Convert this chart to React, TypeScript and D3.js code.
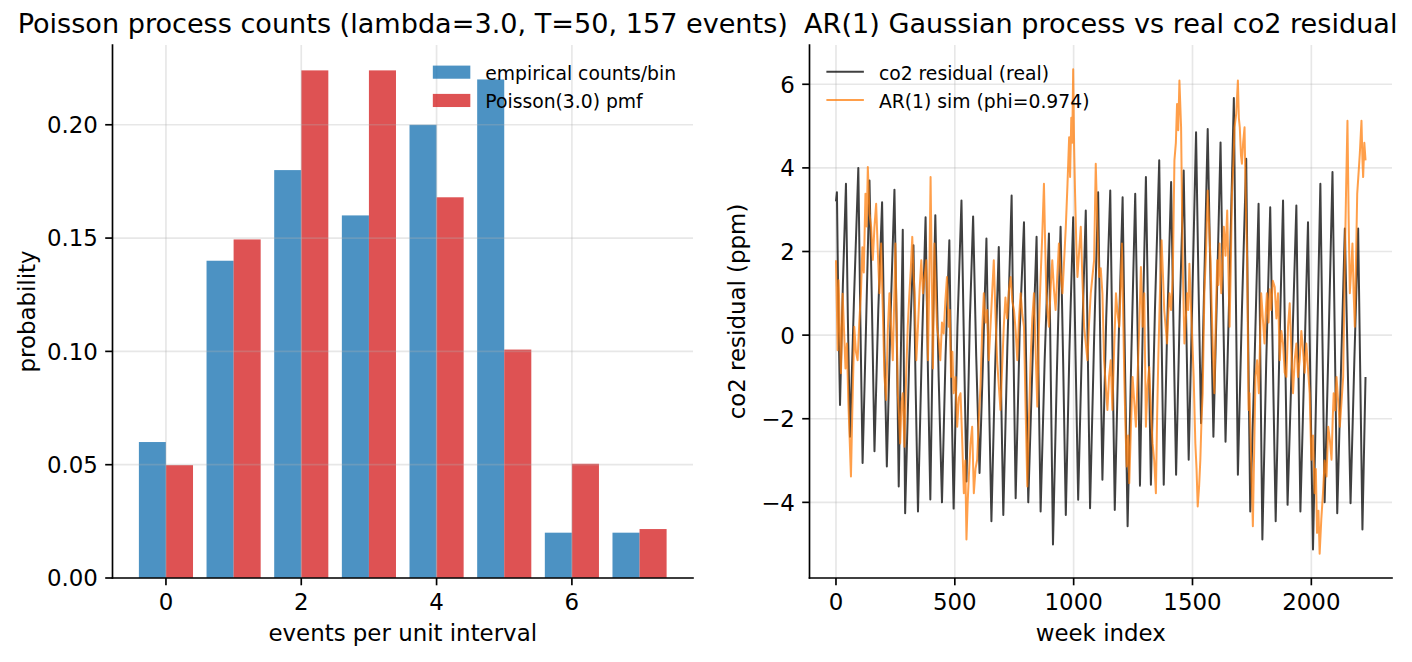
import React from 'react';
import * as d3 from 'd3';

const W = 1412;
const H = 662;
const FONT = "'DejaVu Sans', Verdana, sans-serif";

// ---- left panel: counts per unit interval ----
const eventCounts = [0, 1, 2, 3, 4, 5, 6, 7];
const empiricalProb = [0.06, 0.14, 0.18, 0.16, 0.2, 0.22, 0.02, 0.02];
const poissonPmf = [0.0498, 0.1494, 0.224, 0.224, 0.168, 0.1008, 0.0504, 0.0216];
const leftTicksX = [0, 2, 4, 6];
const leftTicksY = [0, 0.05, 0.1, 0.15, 0.2];

// ---- right panel: weekly co2 residual ----
const co2Weeks = [
  0, 4, 10, 17, 29, 42, 50, 59, 76, 94, 103, 112, 126, 141, 151, 162, 178, 194, 204, 214,
  230, 246, 255, 264, 272, 281, 286, 291, 308, 326, 335, 345, 361, 377, 387, 397, 407, 418, 432, 446,
  461, 477, 486, 495, 511, 528, 538, 549, 563, 577, 590, 604, 618, 633, 643, 654, 669, 685, 694, 704,
  721, 739, 747, 756, 773, 791, 800, 809, 826, 844, 852, 861, 878, 896, 904, 913, 929, 945, 956, 967,
  982, 998, 1008, 1019, 1035, 1051, 1060, 1069, 1086, 1103, 1112, 1121, 1137, 1154, 1163, 1173, 1189, 1206, 1216, 1227,
  1243, 1259, 1269, 1279, 1291, 1304, 1314, 1325, 1342, 1360, 1369, 1379, 1394, 1410, 1420, 1431, 1447, 1463, 1473, 1484,
  1500, 1515, 1525, 1536, 1550, 1564, 1576, 1588, 1603, 1618, 1628, 1639, 1656, 1674, 1682, 1691, 1708, 1726, 1734, 1743,
  1760, 1778, 1786, 1794, 1810, 1827, 1838, 1850, 1865, 1881, 1890, 1900, 1918, 1937, 1945, 1954, 1970, 1986, 1996, 2007,
  2022, 2038, 2047, 2056, 2072, 2089, 2099, 2109, 2125, 2141, 2153, 2165, 2181, 2197, 2206, 2215, 2228,
];
const co2Resid = [
  3.2, 3.42, 0.6, -1.67, 1.2, 3.62, 0.4, -2.43, 0.9, 4.0, 0.2, -3.06, 0.1, 3.7, 0.8, -2.78, 0.6, 3.18, -0.4, -3.14,
  0.5, 3.48, 0.3, -3.62, -0.8, 2.52, -1.0, -4.26, -0.6, 2.15, -1.2, -4.22, -0.4, 2.82, -0.9, -3.93, -0.2, 2.87, -1.0, -4.0,
  -0.5, 2.27, -1.4, -4.15, 0.2, 3.22, -0.1, -3.5, 0.3, 2.84, -0.5, -3.3, -0.7, 2.31, -1.2, -4.45, -0.9, 2.11, -1.1, -4.3,
  -0.3, 3.34, -0.4, -3.9, 0.1, 2.7, -0.6, -4.0, -0.8, 2.35, -0.9, -4.22, -0.6, 2.43, -1.1, -5.01, -1.0, 2.59, -0.7, -4.3,
  -0.4, 2.82, -0.5, -3.94, -0.2, 2.98, -0.6, -4.14, -0.1, 3.42, -0.2, -3.46, 0.4, 3.46, -0.3, -4.18, -0.2, 3.3, -0.7, -4.57,
  -0.4, 3.38, 0.1, -3.6, 0.3, 3.78, 0.2, -3.58, 0.6, 4.18, 0.4, -3.58, 0.3, 3.66, 0.2, -3.34, 0.7, 3.94, 0.5, -2.98,
  1.1, 4.85, 1.3, -2.11, 1.4, 4.93, 1.2, -2.43, 1.0, 4.61, 1.0, -2.55, 1.3, 5.67, 1.2, -3.34, 0.6, 4.22, 0.0, -4.22,
  -0.9, 3.14, -0.8, -4.89, -0.7, 3.06, -0.6, -4.45, -0.5, 3.22, -0.4, -4.06, -0.6, 3.1, -0.5, -4.22, -0.8, 2.7, -1.2, -5.13,
  -0.9, 3.62, -0.2, -4.0, -0.3, 3.9, -0.2, -4.26, -0.8, 2.55, -0.7, -4.02, -0.6, 2.55, -1.0, -4.65, -1.0,
];

// ---- right panel: simulated AR(1) path ----
const arWeeks = [
  0, 4, 7, 11, 16, 21, 28, 34, 40, 46, 52, 57, 63, 68, 73, 77, 84, 91, 98, 105,
  111, 117, 124, 129, 134, 141, 148, 155, 162, 169, 176, 183, 190, 197, 204, 211, 218, 225, 232, 239,
  245, 250, 255, 260, 265, 270, 276, 281, 288, 295, 302, 308, 315, 321, 326, 331, 338, 345, 352, 359,
  366, 373, 380, 387, 393, 398, 404, 408, 414, 419, 425, 432, 439, 446, 453, 460, 467, 474, 479, 484,
  490, 495, 503, 510, 517, 524, 531, 538, 544, 549, 554, 559, 566, 573, 580, 587, 594, 601, 608, 615,
  622, 629, 636, 643, 650, 657, 664, 671, 678, 685, 692, 699, 706, 713, 720, 728, 735, 742, 749, 756,
  763, 770, 777, 784, 791, 798, 805, 812, 819, 826, 833, 840, 847, 854, 861, 868, 875, 880, 885, 891,
  896, 903, 910, 917, 924, 931, 938, 945, 953, 960, 967, 974, 981, 985, 990, 994, 998, 1002, 1006, 1011,
  1016, 1023, 1030, 1037, 1044, 1051, 1058, 1065, 1072, 1079, 1086, 1093, 1100, 1107, 1114, 1121, 1128, 1135, 1142, 1149,
  1156, 1163, 1170, 1178, 1185, 1192, 1198, 1203, 1208, 1213, 1218, 1223, 1229, 1234, 1241, 1248, 1255, 1262, 1269, 1276,
  1283, 1290, 1297, 1304, 1311, 1318, 1325, 1332, 1339, 1346, 1351, 1356, 1363, 1370, 1376, 1381, 1387, 1393, 1398, 1403,
  1410, 1417, 1424, 1430, 1435, 1440, 1445, 1452, 1456, 1460, 1466, 1472, 1477, 1482, 1487, 1492, 1497, 1501, 1505, 1512,
  1517, 1522, 1528, 1533, 1538, 1543, 1550, 1557, 1564, 1570, 1576, 1580, 1585, 1592, 1598, 1604, 1609, 1614, 1621, 1627,
  1632, 1639, 1646, 1651, 1656, 1661, 1666, 1672, 1677, 1684, 1691, 1695, 1699, 1704, 1708, 1713, 1719, 1724, 1730, 1736,
  1740, 1747, 1754, 1760, 1765, 1772, 1779, 1784, 1789, 1796, 1803, 1808, 1813, 1820, 1825, 1831, 1838, 1846, 1853, 1860,
  1867, 1874, 1881, 1888, 1895, 1902, 1909, 1916, 1923, 1930, 1937, 1944, 1951, 1958, 1965, 1972, 1979, 1986, 1993, 2000,
  2007, 2014, 2019, 2024, 2030, 2035, 2042, 2049, 2056, 2064, 2071, 2078, 2085, 2090, 2094, 2100, 2106, 2113, 2120, 2127,
  2134, 2141, 2146, 2152, 2157, 2162, 2168, 2173, 2178, 2183, 2188, 2193, 2199, 2204, 2208, 2211, 2215, 2218, 2223, 2228,
];
const arValues = [
  1.79, 0.6, -0.36, 1.31, 0.2, -0.91, 0.99, 0.1, -0.8, -0.2, -1.6, -2.4, -3.38, -2.0, -0.8, 0.2, -0.4, -0.6, 0.3, 1.0,
  2.1, 1.5, 3.38, 2.6, 4.02, 2.9, 2.59, 1.8, 2.6, 3.14, 2.0, 1.0, 2.19, 0.6, -1.0, -1.55, 0.1, 1.0, 0.2, -0.6,
  0.8, 2.19, 0.4, -1.39, -1.9, -2.59, -1.6, -1.39, -2.67, -1.0, 0.2, 0.9, 1.6, 2.35, 1.5, 1.0, -0.6, 0.2, 1.1, 1.79,
  1.0, 1.4, 1.79, -0.6, 1.5, 3.78, 1.0, -0.8, 2.19, 1.2, 0.2, -0.1, -0.6, 0.3, 0.04, 0.8, 1.39, 0.2, 0.6, -1.0,
  -0.4, -1.39, -1.0, -2.19, -1.5, -1.39, -2.5, -3.78, -3.0, -4.89, -4.0, -3.38, -2.6, -2.19, -3.78, -3.2, -2.98, -2.0, -1.23, 0.1,
  1.0, 0.3, 0.6, -0.6, 0.2, 1.0, 1.79, 0.5, -0.6, -1.2, -1.79, -0.8, 0.2, 0.9, 0.4, 1.1, 1.39, 0.8, 0.6, 0.1,
  -0.6, 0.4, 1.0, 0.5, 0.2, -1.8, -3.62, -2.0, -0.6, 0.4, 1.0, -0.36, -1.71, 0.2, 1.39, 2.4, 3.62, 2.2, 1.0, 0.5,
  0.2, 1.1, 1.79, 1.1, 0.6, 1.4, 2.19, 1.5, 1.0, 1.8, 2.59, 3.6, 4.73, 3.78, 5.2, 4.6, 6.36, 4.5, 3.38, 2.2,
  1.39, 2.0, 2.59, 1.3, 0.2, -0.2, -0.6, 0.3, 1.0, 1.4, 1.79, 4.1, 2.6, 1.39, 1.6, 1.0, -0.6, -1.2, -1.79, -1.0,
  -0.6, -1.79, -0.4, 1.0, 0.5, 0.2, 1.2, 2.19, 0.6, -1.0, -2.2, -3.14, -2.4, -3.54, -2.2, -1.0, -1.6, -2.19, -1.0, 0.2,
  1.63, 0.2, 1.0, -2.19, -1.2, -0.76, -1.8, -2.59, -3.0, -3.78, -2.0, -0.6, 1.0, 2.27, 1.4, 0.6, 0.2, -0.2, 0.5, 1.0,
  0.6, 1.39, 4.18, 4.6, 5.53, 4.9, 6.09, 4.97, 3.0, 1.39, -0.2, 0.4, 1.0, 0.6, 1.71, 0.9, 0.2, -0.4, -1.0, -2.59,
  -3.2, -4.1, -3.6, -2.98, -2.0, -1.39, 1.0, 2.0, 3.46, 2.6, 1.79, 0.8, -0.2, -1.39, 0.4, 1.79, 1.2, 2.19, 1.0, 1.8,
  2.59, 1.9, 2.98, 1.6, 0.2, 1.6, 3.38, 4.1, 4.97, 5.3, 6.09, 5.2, 4.97, 4.3, 4.1, 4.6, 4.97, 3.2, 1.79, -1.79,
  -1.39, -3.0, -4.57, -2.6, -1.0, -0.6, -1.39, -0.2, 1.0, 0.4, -0.2, 0.5, 1.0, 0.3, 1.1, 0.6, 1.3, 1.15, 0.4, 1.0,
  -0.6, 0.1, -0.2, -0.9, -1.0, 0.2, 0.76, -0.4, -1.39, -0.6, -0.2, -1.0, -0.6, 0.1, -0.36, -0.9, -0.2, -0.8, -1.39, -2.98,
  -2.4, -3.78, -3.2, -4.73, -4.2, -5.23, -4.4, -3.78, -3.0, -3.38, -2.19, -2.5, -2.98, -2.0, -1.39, -1.8, -1.0, -1.6, -2.19, -1.6,
  -1.0, 1.79, 3.4, 5.13, 2.8, 1.0, 1.6, 2.19, 1.0, 0.2, 1.8, 3.38, 3.9, 4.34, 4.8, 5.13, 4.2, 3.78, 4.6, 4.18,
];
const rightTicksX = [0, 500, 1000, 1500, 2000];
const rightTicksY = [-4, -2, 0, 2, 4, 6];

// matplotlib-like sizes at 150 dpi
const TICK_FS = 22.9;
const TITLE_FS = 27.1;
const LEGEND_FS = 18.75;
const TICK_LEN = 7.3;
const TICK_PAD = 7.3;
const SPINE_W = 1.67;
const LINE_W = 2.0;
const GRID = { stroke: '#b0b0b0', strokeOpacity: 0.3, strokeWidth: 1.67 };

const BLUE = '#1f77b4';
const RED = '#d62728';
const ORANGE = '#ff7f0e';

const TOP = 45;
const BOTTOM = 578;

// padded linear domain, like matplotlib's 5% margins
const padded = (lo: number, hi: number): [number, number] => {
  const m = (hi - lo) * 0.05;
  return [lo - m, hi + m];
};

const fmtInt = (v: number) => d3.format('d')(v);

interface AxesProps {
  x0: number;
  x1: number;
  x: d3.ScaleLinear<number, number>;
  y: d3.ScaleLinear<number, number>;
  xTicks: number[];
  yTicks: number[];
  yFormat: (v: number) => string;
}

const Grid: React.FC<AxesProps> = ({ x0, x1, x, y, xTicks, yTicks }) => (
  <g>
    {xTicks.map(t => (
      <line key={'gx' + t} x1={x(t)} x2={x(t)} y1={TOP} y2={BOTTOM} {...GRID} />
    ))}
    {yTicks.map(t => (
      <line key={'gy' + t} x1={x0} x2={x1} y1={y(t)} y2={y(t)} {...GRID} />
    ))}
  </g>
);

const Spines: React.FC<AxesProps> = ({ x0, x1, x, y, xTicks, yTicks, yFormat }) => (
  <g fontFamily={FONT} fontSize={TICK_FS} fill="#000">
    <line x1={x0} x2={x0} y1={TOP} y2={BOTTOM} stroke="#000" strokeWidth={SPINE_W} strokeLinecap="square" />
    <line x1={x0} x2={x1} y1={BOTTOM} y2={BOTTOM} stroke="#000" strokeWidth={SPINE_W} strokeLinecap="square" />
    {xTicks.map(t => (
      <g key={'tx' + t}>
        <line x1={x(t)} x2={x(t)} y1={BOTTOM} y2={BOTTOM + TICK_LEN} stroke="#000" strokeWidth={SPINE_W} />
        <text x={x(t)} y={BOTTOM + TICK_LEN + TICK_PAD + 17.4} textAnchor="middle">
          {fmtInt(t)}
        </text>
      </g>
    ))}
    {yTicks.map(t => (
      <g key={'ty' + t}>
        <line x1={x0 - TICK_LEN} x2={x0} y1={y(t)} y2={y(t)} stroke="#000" strokeWidth={SPINE_W} />
        <text x={x0 - TICK_LEN - TICK_PAD} y={y(t) + 8.4} textAnchor="end">
          {yFormat(t)}
        </text>
      </g>
    ))}
  </g>
);

const App: React.FC = () => {
  // left panel scales
  const lx0 = 112.5;
  const lx1 = 693;
  const xL = d3
    .scaleLinear()
    .domain(padded(d3.min(eventCounts)! - 0.4, d3.max(eventCounts)! + 0.4))
    .range([lx0, lx1]);
  const yL = d3
    .scaleLinear()
    .domain([0, Math.max(d3.max(empiricalProb)!, d3.max(poissonPmf)!) * 1.05])
    .range([BOTTOM, TOP]);
  const barW = 0.4;

  // right panel scales
  const rx0 = 809.5;
  const rx1 = 1392;
  const xR = d3
    .scaleLinear()
    .domain(padded(0, Math.max(d3.max(co2Weeks)!, d3.max(arWeeks)!)))
    .range([rx0, rx1]);
  const yAll = [...co2Resid, ...arValues];
  const yR = d3
    .scaleLinear()
    .domain(padded(d3.min(yAll)!, d3.max(yAll)!))
    .range([BOTTOM, TOP]);

  const line = d3
    .line<[number, number]>()
    .x(d => xR(d[0]))
    .y(d => yR(d[1]));
  const co2Path = line(co2Weeks.map((w, i) => [w, co2Resid[i]]))!;
  const arPath = line(arWeeks.map((w, i) => [w, arValues[i]]))!;

  const leftAxes: AxesProps = {
    x0: lx0, x1: lx1, x: xL, y: yL, xTicks: leftTicksX, yTicks: leftTicksY,
    yFormat: d3.format('.2f'),
  };
  const rightAxes: AxesProps = {
    x0: rx0, x1: rx1, x: xR, y: yR, xTicks: rightTicksX, yTicks: rightTicksY,
    yFormat: fmtInt,
  };

  // legend geometry
  const handleLen = 2 * LEGEND_FS;
  const textGap = 0.8 * LEGEND_FS;
  const row1 = 80;
  const row2 = 108.3;
  const leftLegendX = lx1 - 0.9 * LEGEND_FS - (handleLen + textGap + 190.8);
  const rightLegendX = rx0 + 0.9 * LEGEND_FS;

  return (
    <svg
      width={W}
      height={H}
      viewBox={`0 0 ${W} ${H}`}
      style={{ position: 'absolute', left: 0, top: 0, background: '#fff' }}
    >
      <rect width={W} height={H} fill="#fff" />

      {/* left: empirical vs theoretical distribution */}
      <g>
        {eventCounts.map((k, i) => (
          <g key={'bar' + k}>
            <rect
              x={xL(k - barW)}
              y={yL(empiricalProb[i])}
              width={xL(k) - xL(k - barW)}
              height={BOTTOM - yL(empiricalProb[i])}
              fill={BLUE}
              fillOpacity={0.8}
            />
            <rect
              x={xL(k)}
              y={yL(poissonPmf[i])}
              width={xL(k + barW) - xL(k)}
              height={BOTTOM - yL(poissonPmf[i])}
              fill={RED}
              fillOpacity={0.8}
            />
          </g>
        ))}
        <Grid {...leftAxes} />
        <Spines {...leftAxes} />
        <text x={(lx0 + lx1) / 2} y={32.5} textAnchor="middle" fontFamily={FONT} fontSize={TITLE_FS}>
          Poisson process counts (lambda=3.0, T=50, 157 events)
        </text>
        <text x={(lx0 + lx1) / 2} y={641} textAnchor="middle" fontFamily={FONT} fontSize={TICK_FS}>
          events per unit interval
        </text>
        <text
          transform={`translate(35,${(TOP + BOTTOM) / 2}) rotate(-90)`}
          textAnchor="middle"
          fontFamily={FONT}
          fontSize={TICK_FS}
        >
          probability
        </text>
        <g fontFamily={FONT} fontSize={LEGEND_FS}>
          <rect x={leftLegendX} y={row1 - 14.4} width={handleLen} height={0.7 * LEGEND_FS} fill={BLUE} fillOpacity={0.8} />
          <text x={leftLegendX + handleLen + textGap} y={row1}>empirical counts/bin</text>
          <rect x={leftLegendX} y={row2 - 14.4} width={handleLen} height={0.7 * LEGEND_FS} fill={RED} fillOpacity={0.8} />
          <text x={leftLegendX + handleLen + textGap} y={row2}>Poisson(3.0) pmf</text>
        </g>
      </g>

      {/* right: co2 residual and AR(1) simulation */}
      <g>
        <Grid {...rightAxes} />
        <path d={co2Path} fill="none" stroke="#000" strokeOpacity={0.75} strokeWidth={LINE_W} strokeLinejoin="round" />
        <path d={arPath} fill="none" stroke={ORANGE} strokeOpacity={0.75} strokeWidth={LINE_W} strokeLinejoin="round" />
        <Spines {...rightAxes} />
        <text x={(rx0 + rx1) / 2} y={32.5} textAnchor="middle" fontFamily={FONT} fontSize={TITLE_FS}>
          AR(1) Gaussian process vs real co2 residual
        </text>
        <text x={(rx0 + rx1) / 2} y={641} textAnchor="middle" fontFamily={FONT} fontSize={TICK_FS}>
          week index
        </text>
        <text
          transform={`translate(745,${(TOP + BOTTOM) / 2}) rotate(-90)`}
          textAnchor="middle"
          fontFamily={FONT}
          fontSize={TICK_FS}
        >
          co2 residual (ppm)
        </text>
        <g fontFamily={FONT} fontSize={LEGEND_FS}>
          <line x1={rightLegendX} x2={rightLegendX + handleLen} y1={row1 - 8.3} y2={row1 - 8.3} stroke="#000" strokeOpacity={0.75} strokeWidth={LINE_W} />
          <text x={rightLegendX + handleLen + textGap} y={row1}>co2 residual (real)</text>
          <line x1={rightLegendX} x2={rightLegendX + handleLen} y1={row2 - 8.3} y2={row2 - 8.3} stroke={ORANGE} strokeOpacity={0.75} strokeWidth={LINE_W} />
          <text x={rightLegendX + handleLen + textGap} y={row2}>AR(1) sim (phi=0.974)</text>
        </g>
      </g>
    </svg>
  );
};

export default App;
